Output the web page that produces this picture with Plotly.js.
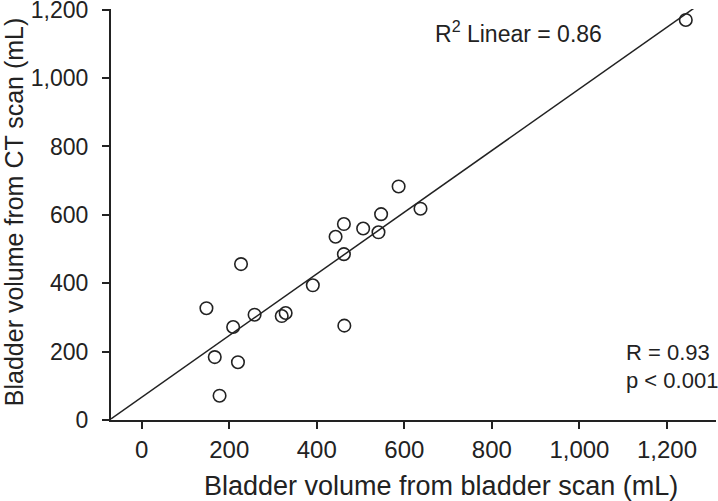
<!DOCTYPE html>
<html>
<head>
<meta charset="utf-8">
<script src="https://cdn.plot.ly/plotly-3.0.1.min.js"></script>
<style>
  html, body { margin: 0; padding: 0; background: #fff; }
  #chart { width: 718px; height: 501px; }
</style>
</head>
<body>
<div id="chart"></div>
<script>
// volumes (mL)
const bladderScan = [587, 637, 547, 462, 506, 541, 443, 462, 227, 391, 148, 258, 320, 329, 209, 463, 167, 220, 178, 1243];
const ctScan      = [683, 618, 602, 573, 560, 549, 536, 485, 456, 394, 327, 308, 304, 313, 272, 276, 184, 169, 71, 1170];

const xTicks = [0, 200, 400, 600, 800, 1000, 1200];
const yTicks = [0, 200, 400, 600, 800, 1000, 1200];
const fmt = v => v.toLocaleString('en-US');

const xRange = [-70, 1312];
const yRange = [0, 1202];

// droite de régression (moindres carrés)
const n = bladderScan.length;
const mx = bladderScan.reduce((a, b) => a + b, 0) / n;
const my = ctScan.reduce((a, b) => a + b, 0) / n;
let sxy = 0, sxx = 0;
for (let i = 0; i < n; i++) {
    sxy += (bladderScan[i] - mx) * (ctScan[i] - my);
    sxx += (bladderScan[i] - mx) ** 2;
}
const slope = sxy / sxx;
const intercept = my - slope * mx;
const fitX = [xRange[0], xRange[1]];
const fitY = fitX.map(x => intercept + slope * x);

const ink = '#222';
const font = { family: 'Liberation Sans, Arial, sans-serif', color: ink };

Plotly.newPlot('chart', [
    {
        x: fitX, y: fitY,
        mode: 'lines',
        line: { color: ink, width: 1.5 },
        hoverinfo: 'skip'
    },
    {
        x: bladderScan, y: ctScan,
        mode: 'markers',
        marker: { symbol: 'circle-open', size: 12.5, color: ink, line: { width: 1.6, color: ink } }
    }
], {
    width: 718, height: 501,
    margin: { l: 111, r: 2, t: 9, b: 81 },
    showlegend: false,
    paper_bgcolor: '#fff', plot_bgcolor: '#fff',
    font: { ...font, size: 24 },
    xaxis: {
        range: xRange,
        tickvals: xTicks, ticktext: xTicks.map(fmt),
        ticks: 'outside', ticklen: 7, tickwidth: 2, tickcolor: ink,
        showline: true, linewidth: 2, linecolor: ink,
        showgrid: false, zeroline: false,
        ticklabeloverflow: 'allow',
        tickfont: { ...font, size: 24 }
    },
    yaxis: {
        range: yRange,
        tickvals: yTicks, ticktext: yTicks.map(fmt),
        ticks: 'outside', ticklen: 7, tickwidth: 2, tickcolor: ink,
        showline: true, linewidth: 2, linecolor: ink,
        showgrid: false, zeroline: false,
        ticklabeloverflow: 'allow',
        ticklabelstandoff: 9,
        tickfont: { ...font, size: 23 }
    },
    annotations: [
        {
            text: 'Bladder volume from bladder scan (mL)',
            xref: 'paper', yref: 'paper', x: 0.545, y: -0.161,
            xanchor: 'center', yanchor: 'middle', showarrow: false,
            font: { ...font, size: 27 }
        },
        {
            text: 'Bladder volume from CT scan (mL)',
            xref: 'paper', yref: 'paper', x: -0.161, y: 0.507,
            xanchor: 'center', yanchor: 'middle', textangle: -90, showarrow: false,
            font: { ...font, size: 25 }
        },
        {
            text: 'R<sup>2</sup> Linear = 0.86',
            xref: 'paper', yref: 'paper', x: 0.532, y: 0.945,
            xanchor: 'left', yanchor: 'middle', showarrow: false,
            font: { ...font, size: 23 }
        },
        {
            text: 'R = 0.93',
            xref: 'paper', yref: 'paper', x: 0.848, y: 0.165,
            xanchor: 'left', yanchor: 'middle', showarrow: false,
            font: { ...font, size: 22 }
        },
        {
            text: 'p < 0.001',
            xref: 'paper', yref: 'paper', x: 0.848, y: 0.096,
            xanchor: 'left', yanchor: 'middle', showarrow: false,
            font: { ...font, size: 22 }
        }
    ]
}, { displayModeBar: false, staticPlot: true });
</script>
</body>
</html>
